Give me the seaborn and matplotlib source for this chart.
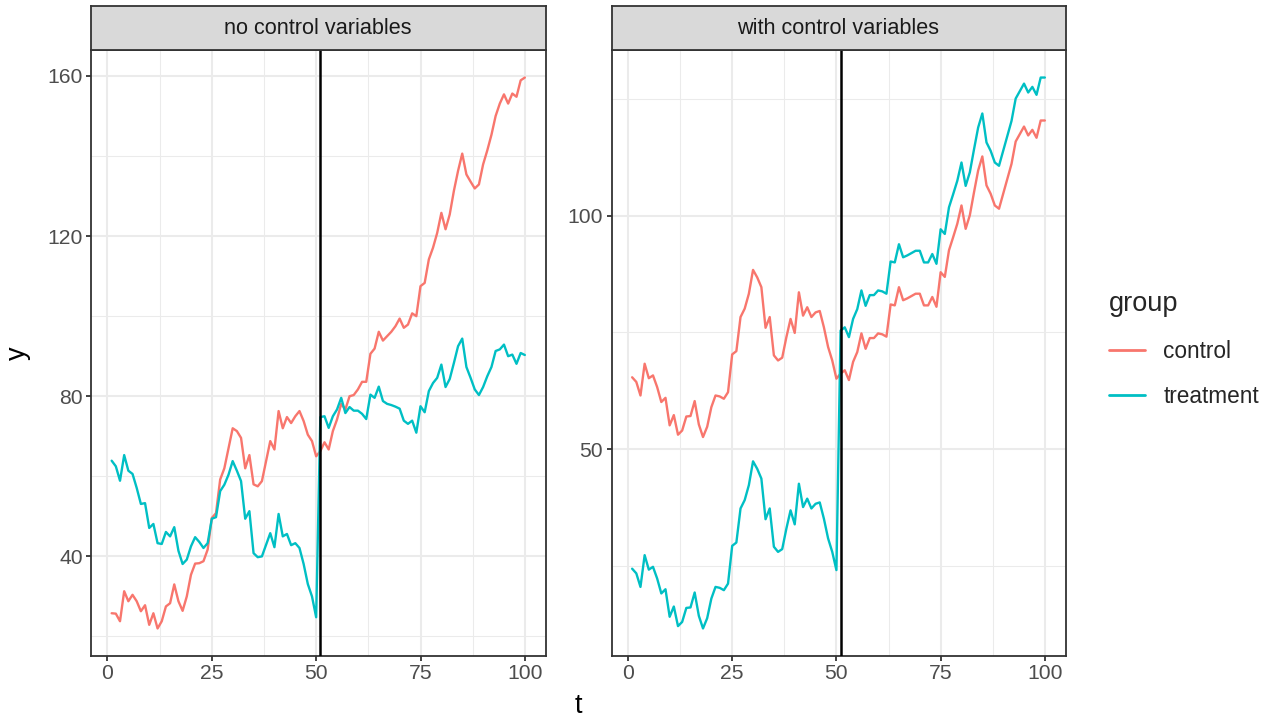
import numpy as np
import pandas as pd
import matplotlib
matplotlib.use("Agg")
import matplotlib.pyplot as plt
import seaborn as sns

t = list(range(1, 101))
groups = ["control", "treatment"]
facets = ["no control variables", "with control variables"]
colors = {"control": "#F8766D", "treatment": "#00BFC4"}
intervention_t = 51

no_ctrl_control = [
    25.8, 25.7, 23.8, 31.3, 28.8, 30.4, 28.8, 26.3, 27.8, 22.9,
    25.8, 22.0, 23.8, 27.5, 28.3, 33.0, 28.8, 26.4, 30.0, 35.4,
    38.2, 38.3, 38.8, 41.7, 49.6, 50.8, 59.2, 62.0, 67.0, 72.0,
    71.3, 69.6, 62.0, 65.3, 58.0, 57.5, 58.8, 63.8, 68.8, 66.7,
    76.3, 72.0, 74.8, 73.3, 75.0, 76.3, 73.8, 70.4, 68.8, 65.0,
    66.3, 68.5, 66.7, 71.3, 74.2, 78.1, 76.7, 80.0, 80.3, 81.7,
    83.6, 83.6, 90.6, 91.9, 96.1, 93.9, 95.0, 96.1, 97.5, 99.4,
    97.1, 97.9, 100.7, 100.0, 107.5, 108.3, 114.2, 117.1, 120.8, 125.8,
    121.7, 125.4, 131.3, 136.3, 140.6, 135.4, 133.6, 131.9, 132.9, 137.9,
    141.4, 145.3, 150.0, 153.1, 155.4, 153.1, 155.6, 154.8, 158.9, 159.6,
]
no_ctrl_treatment = [
    63.9, 62.5, 58.9, 65.3, 61.4, 60.6, 57.1, 53.1, 53.3, 47.1,
    48.1, 43.3, 43.1, 46.1, 45.0, 47.3, 41.4, 38.1, 39.2, 42.5,
    44.8, 43.6, 42.1, 43.3, 49.4, 49.8, 56.3, 57.9, 60.4, 63.8,
    61.4, 58.8, 49.4, 51.3, 40.8, 39.8, 40.0, 42.9, 45.8, 42.3,
    50.6, 45.0, 45.6, 42.8, 43.3, 42.1, 38.1, 33.1, 30.0, 24.8,
    74.8, 75.0, 72.1, 75.0, 76.7, 79.6, 75.8, 77.3, 76.4, 76.4,
    75.6, 74.3, 80.4, 79.6, 82.4, 78.8, 78.1, 77.8, 77.4, 76.9,
    73.9, 73.1, 73.9, 70.9, 77.5, 76.0, 81.3, 83.3, 84.6, 87.9,
    82.3, 84.3, 88.3, 92.5, 94.4, 87.3, 84.6, 81.7, 80.3, 82.3,
    85.0, 87.3, 91.3, 91.7, 92.9, 90.0, 90.4, 88.1, 90.8, 90.3,
]
with_ctrl_control = [
    65.4, 64.4, 61.5, 68.3, 65.2, 65.8, 63.3, 60.1, 61.0, 55.1,
    57.3, 53.1, 54.0, 57.0, 57.1, 60.3, 55.3, 52.6, 54.8, 59.0,
    61.5, 61.3, 60.8, 62.2, 70.3, 71.0, 78.3, 80.1, 83.3, 88.4,
    86.8, 84.7, 76.0, 78.3, 70.1, 69.0, 69.6, 74.0, 77.9, 74.9,
    83.6, 78.6, 80.4, 78.3, 79.3, 79.6, 76.1, 71.9, 69.0, 65.1,
    66.2, 66.9, 64.8, 68.7, 70.8, 74.8, 71.5, 73.8, 73.8, 74.8,
    74.6, 74.1, 81.0, 80.8, 84.7, 81.9, 82.3, 82.8, 83.3, 83.3,
    80.8, 80.8, 82.6, 80.5, 87.9, 86.9, 92.6, 95.4, 98.3, 102.2,
    97.2, 100.1, 105.0, 109.7, 112.7, 106.5, 104.7, 102.2, 101.5, 104.7,
    107.9, 111.1, 115.9, 117.5, 119.1, 117.2, 118.4, 116.7, 120.4, 120.4,
]
with_ctrl_treatment = [
    24.4, 23.4, 20.5, 27.3, 24.2, 24.8, 22.3, 19.1, 20.0, 14.1,
    16.3, 12.1, 13.0, 16.0, 16.1, 19.3, 14.3, 11.6, 13.8, 18.0,
    20.5, 20.3, 19.8, 21.2, 29.3, 30.0, 37.3, 39.1, 42.3, 47.4,
    45.8, 43.7, 35.0, 37.3, 29.1, 28.0, 28.6, 33.0, 36.9, 33.9,
    42.6, 37.6, 39.4, 37.3, 38.3, 38.6, 35.1, 30.9, 28.0, 24.1,
    75.4, 76.1, 74.0, 77.9, 80.0, 84.0, 80.7, 83.0, 83.0, 84.0,
    83.8, 83.3, 90.2, 90.0, 93.9, 91.1, 91.5, 92.0, 92.5, 92.5,
    90.0, 90.0, 91.8, 89.7, 97.1, 96.1, 101.8, 104.6, 107.5, 111.4,
    106.4, 109.3, 114.2, 118.9, 121.9, 115.7, 113.9, 111.4, 110.7, 113.9,
    117.1, 120.3, 125.1, 126.7, 128.3, 126.4, 127.6, 125.9, 129.6, 129.6,
]

x_ticks = [0, 25, 50, 75, 100]
y_ticks = {facets[0]: [40, 80, 120, 160], facets[1]: [50, 100]}

series = {
    (facets[0], "control"): no_ctrl_control,
    (facets[0], "treatment"): no_ctrl_treatment,
    (facets[1], "control"): with_ctrl_control,
    (facets[1], "treatment"): with_ctrl_treatment,
}
rows = []
for (f, g), vals in series.items():
    for ti, v in zip(t, vals):
        rows.append({"facet": f, "group": g, "t": ti, "y": v})
df = pd.DataFrame(rows)

sns.set_theme(style="white")
plt.rcParams["font.family"] = ["Liberation Sans", "DejaVu Sans"]

W, H = 1274, 722
fig = plt.figure(figsize=(W / 100, H / 100), dpi=100)

def fx(px):
    return px / W

def fy(py):
    return 1 - py / H

panel_x = [(91, 545.5), (611.5, 1065.5)]
panel_top, panel_bot = 50, 656
strip_top = 6

grid_major = "#EBEBEB"
dark = "#333333"

axes = []
for i, f in enumerate(facets):
    x0, x1 = panel_x[i]
    ax = fig.add_axes([fx(x0), fy(panel_bot), fx(x1) - fx(x0), fy(panel_top) - fy(panel_bot)])
    sub = df[df["facet"] == f]
    sns.lineplot(data=sub, x="t", y="y", hue="group", hue_order=groups,
                 palette=colors, ax=ax, linewidth=1.7, legend=(i == 1))
    ax.axvline(intervention_t, color="black", linewidth=1.8, zorder=5)

    tmin, tmax = min(t), max(t)
    pad = 0.05 * (tmax - tmin)
    ax.set_xlim(tmin - pad, tmax + pad)
    ymin, ymax = sub["y"].min(), sub["y"].max()
    ypad = 0.05 * (ymax - ymin)
    ax.set_ylim(ymin - ypad, ymax + ypad)

    ax.set_xticks(x_ticks)
    ax.set_xticks([12.5, 37.5, 62.5, 87.5], minor=True)
    yt = y_ticks[f]
    ax.set_yticks(yt)
    step = yt[1] - yt[0]
    lo, hi = ax.get_ylim()
    minors = [m for m in np.arange(yt[0] - step / 2, yt[-1] + step, step) if lo < m < hi]
    ax.set_yticks(minors, minor=True)

    ax.grid(which="major", color=grid_major, linewidth=1.5)
    ax.grid(which="minor", color=grid_major, linewidth=0.75)
    ax.set_axisbelow(True)
    for s in ax.spines.values():
        s.set_color(dark)
        s.set_linewidth(1.3)
        s.set_visible(True)
    ax.tick_params(which="major", length=3.5, width=1.3, color=dark, pad=2.5,
                   labelsize=15.2, labelcolor="#4D4D4D", bottom=True, left=True)
    ax.tick_params(which="minor", length=0, bottom=False, left=False)
    ax.set_xlabel("")
    ax.set_ylabel("")
    ax.set_facecolor("white")

    sax = fig.add_axes([fx(x0), fy(panel_top), fx(x1) - fx(x0), fy(strip_top) - fy(panel_top)])
    sax.set_facecolor("#D9D9D9")
    sax.set_xticks([])
    sax.set_yticks([])
    for s in sax.spines.values():
        s.set_color(dark)
        s.set_linewidth(1.3)
    sax.text(0.5, 0.5, f, ha="center", va="center", fontsize=15.6, color="#1A1A1A",
             transform=sax.transAxes)
    axes.append(ax)

handles, labels = axes[1].get_legend_handles_labels()
axes[1].get_legend().remove()
for h in handles:
    h.set_linewidth(2.0)
leg = fig.legend(handles, labels, title="group", loc="upper left",
                 bbox_to_anchor=(fx(1100), fy(282)), frameon=False,
                 fontsize=16.3, title_fontsize=19.5, handlelength=1.6,
                 handletextpad=0.8, labelspacing=1.0, borderaxespad=0)
leg._legend_box.align = "left"

fig.text(fx(578.5), fy(706), "t", ha="center", va="center", fontsize=19.5, color="black")
fig.text(fx(18), fy(353), "y", ha="center", va="center", rotation=90, fontsize=19.5, color="black")

fig.savefig("out.png", dpi=100)
